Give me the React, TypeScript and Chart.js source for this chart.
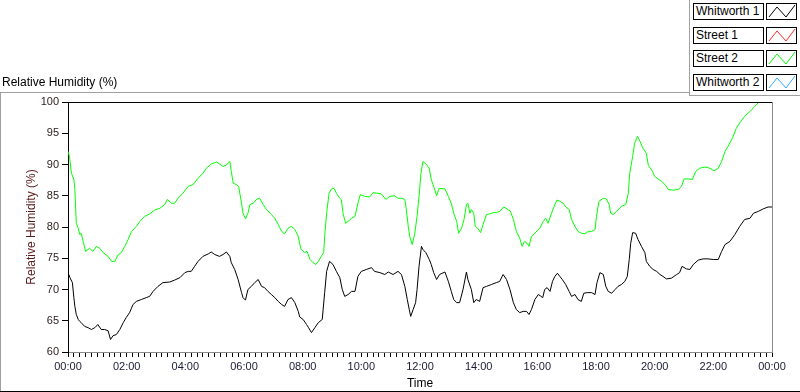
import React, { useEffect, useRef } from "react";
import { Chart, registerables } from "chart.js";

Chart.register(...registerables);

// ---- Data (time in minutes since 00:00, values in % RH) ----
const xTickMinutes = [0, 120, 240, 360, 480, 600, 720, 840, 960, 1080, 1200, 1320, 1440];
const xTickLabels = ["00:00", "02:00", "04:00", "06:00", "08:00", "10:00", "12:00", "14:00", "16:00", "18:00", "20:00", "22:00", "00:00"];
const yTickValues = [60, 65, 70, 75, 80, 85, 90, 95, 100];

const seriesNames = ["Whitworth 1", "Street 1", "Street 2", "Whitworth 2"];
const seriesColors = ["#000000", "#ff2a2a", "#00ff00", "#33aaff"];

const whitworth1Times = [
  0, 4, 9, 12, 14, 17, 21, 24, 27, 34, 41, 48, 55, 61, 68, 75, 82, 87, 92, 99, 106, 113, 119, 126, 133, 140,
  150, 160, 167, 174, 184, 194, 208, 218, 229, 239, 246, 252, 259, 266, 276, 287, 293, 300, 310, 317, 324, 331,
  334, 341, 348, 355, 358, 363, 368, 375, 382, 389, 396, 402, 409, 416, 423, 430, 437, 443, 450, 457, 464, 471,
  474, 481, 488, 492, 498, 505, 512, 520, 525, 529, 535, 542, 549, 556, 561, 566, 573, 580, 587, 593, 600, 610,
  621, 627, 638, 648, 655, 665, 675, 682, 689, 694, 698, 701, 706, 711, 714, 718, 723, 726, 732, 739, 743, 748,
  754, 760, 771, 778, 784, 789, 795, 801, 808, 815, 818, 825, 830, 835, 842, 849, 856, 866, 876, 883, 890, 897,
  904, 911, 917, 924, 931, 938, 943, 948, 955, 962, 966, 971, 975, 980, 986, 991, 996, 1001, 1006, 1011, 1018,
  1025, 1030, 1037, 1043, 1050, 1055, 1062, 1071, 1078, 1082, 1088, 1095, 1100, 1105, 1112, 1119, 1125, 1132,
  1139, 1144, 1148, 1151, 1155, 1161, 1166, 1173, 1180, 1183, 1190, 1197, 1204, 1211, 1217, 1224, 1234, 1245,
  1251, 1256, 1265, 1272, 1279, 1289, 1299, 1309, 1320, 1330, 1337, 1344, 1354, 1364, 1374, 1384, 1395, 1402,
  1412, 1422, 1432, 1440,
];
const whitworth1Values = [
  72.7, 71.9, 71.1, 68.7, 67.3, 66.0, 65.2, 64.9, 64.7, 64.1, 63.9, 63.6, 63.9, 64.4, 63.6, 63.6, 63.4, 62.0, 62.6,
  62.8, 63.6, 64.7, 65.5, 66.3, 67.6, 68.1, 68.4, 68.7, 68.9, 69.7, 70.5, 71.1, 71.2, 71.5, 71.9, 72.7, 72.9, 72.9,
  73.7, 74.5, 75.3, 75.7, 76.0, 75.6, 75.3, 75.6, 76.0, 75.3, 74.3, 73.2, 71.6, 69.5, 68.7, 68.3, 70.0, 70.5, 71.1,
  71.6, 70.5, 70.3, 69.7, 69.2, 68.7, 68.1, 67.6, 67.3, 68.4, 68.7, 67.9, 66.5,
  65.6, 65.2, 64.4, 63.9, 63.1, 63.9, 64.7, 65.2, 69.5, 72.9, 74.5, 74.0, 72.9, 71.9, 70.0, 68.9, 69.2, 69.7, 69.7,
  72.1, 72.9, 73.2, 73.5, 72.9, 72.7, 72.4, 72.8, 72.4, 72.9, 72.4, 70.5, 68.4, 66.8, 65.7, 66.8, 67.9, 70.0, 73.7,
  76.9, 76.4, 75.9, 74.8, 74.0, 72.7, 71.6, 72.4, 72.8, 71.3, 69.7, 68.4, 67.9, 67.9, 70.0, 72.8, 71.6, 70.0, 67.9,
  68.4, 68.1, 70.3, 70.5, 70.8, 71.1, 71.3, 72.4, 71.6, 70.0, 67.9, 66.8, 66.3, 66.5, 66.5, 66.0, 66.8, 68.4, 69.2,
  69.0, 68.7, 70.0, 70.3, 69.7, 71.3, 72.1, 72.6, 72.1, 71.6, 70.8, 69.7, 68.9, 69.2, 68.4, 68.1, 69.4, 69.5, 69.5,
  69.2, 71.1, 72.7, 72.4, 70.5, 69.7, 69.4, 70.0, 70.5, 70.8, 71.3, 72.1, 74.8, 77.4, 79.1, 79.0, 78.0, 76.9, 75.9,
  74.5, 73.7, 73.2, 72.9, 72.4, 72.1, 71.7, 71.8, 72.4, 72.7, 73.7, 73.3, 73.2, 74.0, 74.7, 74.9, 74.9, 74.8, 74.8,
  76.1, 77.2, 77.7, 78.8, 80.1, 81.2, 81.4, 82.2, 82.5, 82.9, 83.2, 83.2,
];

const street2Times = [
  0, 3, 7, 12, 14, 17, 21, 24, 27, 31, 36, 44, 51, 58, 65, 72, 82, 89, 96, 102, 109, 116, 123, 130, 140, 147, 157,
  167, 177, 188, 198, 203, 212, 218, 225, 235, 246, 256, 266, 276, 283, 293, 304, 310, 317, 324, 331, 334, 338,
  344, 349, 355, 358, 363, 368, 372, 379, 385, 392, 399, 406, 416, 423, 430, 437, 443, 450, 457, 464, 471,
  474, 477, 484, 489, 495, 501, 507, 512, 518, 523, 525, 529, 534, 539, 544, 549, 556, 559, 563, 568, 573, 580,
  587, 593, 598, 607, 617, 624, 634, 641, 650, 658, 668, 675, 682, 689, 692, 696, 699, 704, 709, 714, 718, 722,
  726, 732, 739, 743, 748, 754, 759, 771, 778, 784, 789, 795, 799, 805, 810, 815, 818, 822, 825, 830, 833, 838,
  844, 849, 856, 863, 870, 876, 883, 891, 898, 905, 911, 917, 924, 929, 934, 939, 943, 948, 955, 962, 965, 972,
  977, 982, 989, 996, 1000, 1007, 1013, 1018, 1025, 1030, 1037, 1043, 1050, 1057, 1064, 1071, 1078, 1081, 1086,
  1095, 1101, 1107, 1110, 1115, 1122, 1132, 1141, 1146, 1149, 1155, 1159, 1165, 1170, 1176, 1183, 1187, 1194,
  1200, 1207, 1214, 1221, 1228, 1238, 1248, 1255, 1260, 1269, 1277, 1284, 1292, 1303, 1313, 1321, 1330, 1337,
  1344, 1350, 1359, 1367, 1376, 1384, 1395, 1405, 1412, 1422, 1440,
];
const street2Values = [
  92.1, 91.3, 88.6, 87.6, 86.0, 80.6, 79.8, 78.8, 79.0, 77.7, 76.1, 76.6, 76.1, 76.9, 76.6, 75.9, 75.3, 74.5, 74.5,
  75.5, 75.9, 76.9, 78.0, 79.3, 80.1, 80.9, 81.7, 82.1, 82.7, 83.0, 83.6, 84.4, 83.8, 83.8, 84.6, 85.4, 86.5, 86.8,
  87.8, 88.6, 89.4, 90.1, 90.4, 90.1, 89.7, 89.9, 90.5, 88.9, 87.0, 86.8, 86.5, 83.8, 82.2, 81.3, 82.2, 83.6, 83.8,
  84.4, 84.6, 83.6, 82.8, 82.0, 81.4, 80.4, 79.3, 78.9, 79.8, 80.1, 79.6, 78.5,
  77.3, 76.4, 75.9, 76.1, 74.8, 74.3, 74.0, 74.5, 75.3, 75.9, 78.5, 82.2, 85.4, 86.1, 86.2, 85.4, 84.6, 84.4, 82.0,
  80.6, 80.9, 81.4, 81.7, 83.8, 85.2, 84.9, 84.8, 85.5, 85.4, 85.3, 84.4, 84.9, 85.0, 84.6, 84.6, 84.4, 82.8, 80.1,
  78.5, 77.2, 78.8, 81.7, 84.9, 88.6, 90.5, 90.1, 89.4, 87.6, 86.5, 85.0, 86.2, 86.1, 84.9, 83.8, 82.2, 80.9, 79.0,
  79.8, 81.2, 83.6, 83.8, 82.2, 82.8, 82.2, 80.1, 79.8, 79.1, 80.4, 82.0, 82.1, 82.3, 82.3, 82.5, 83.2, 82.9, 82.5,
  81.2, 79.3, 78.2, 76.9, 77.7, 77.4, 76.9, 78.5, 79.0, 79.6, 79.8, 80.9, 81.4, 80.6, 82.2, 83.6, 84.3, 84.1, 83.8,
  83.2, 82.8, 81.2, 80.1, 79.3, 79.0, 78.9, 79.3, 79.3, 79.6, 81.7, 84.1, 84.6, 84.5, 83.6, 82.2, 82.0, 82.5, 83.3,
  83.6, 85.4, 88.6, 91.3, 93.4, 94.5, 93.7, 92.6, 91.8, 89.9, 89.1, 88.1, 87.7, 87.3, 86.8, 86.0, 85.9, 86.0, 86.5,
  87.7, 87.7, 87.6, 88.9, 89.4, 89.6, 89.4, 89.0, 89.4, 90.5, 92.1, 92.9, 94.2, 95.8, 96.9, 97.7, 98.5, 99.3, 99.9,
  100.0, 100.0,
];
const street1Times: number[] = [];
const street1Values: number[] = [];
const whitworth2Times: number[] = [];
const whitworth2Values: number[] = [];

const FONT = "'Liberation Sans', Arial, sans-serif";

function toPoints(times: number[], values: number[]) {
  return times.map((t, i) => ({ x: t, y: values[i] }));
}

const plotFrame = {
  id: "plotFrame",
  afterDraw(chart: any) {
    const { ctx, chartArea } = chart;
    const { left, right, top, bottom } = chartArea;
    ctx.save();
    ctx.lineWidth = 1;
    ctx.strokeStyle = "#000000";
    ctx.beginPath();
    ctx.moveTo(left, top + 0.5);
    ctx.lineTo(right, top + 0.5);
    ctx.stroke();
    ctx.strokeStyle = "#8a8a8a";
    ctx.beginPath();
    ctx.moveTo(right + 0.5, top);
    ctx.lineTo(right + 0.5, bottom + 1);
    ctx.stroke();
    ctx.restore();
  },
};

function LegendRow({ name, color, top }: { name: string; color: string; top: number }) {
  return (
    <>
      <div
        style={{
          position: "absolute",
          left: 693,
          top,
          width: 71,
          height: 17,
          boxSizing: "border-box",
          border: "1px solid #000",
          background: "#fff",
          fontSize: 12,
          lineHeight: "15px",
          paddingLeft: 2,
          whiteSpace: "nowrap",
          color: "#000",
        }}
      >
        {name}
      </div>
      <div
        style={{
          position: "absolute",
          left: 766,
          top,
          width: 31,
          height: 17,
          boxSizing: "border-box",
          border: "1px solid #000",
          background: "#fff",
        }}
      >
        <svg width={29} height={15} style={{ display: "block" }}>
          <polyline points="2,13 10,3 19,13 28,1" fill="none" stroke={color} strokeWidth={1} />
        </svg>
      </div>
    </>
  );
}

export default function App() {
  const canvasRef = useRef<HTMLCanvasElement | null>(null);

  useEffect(() => {
    const canvas = canvasRef.current;
    if (!canvas) return;
    Chart.defaults.font.family = FONT;
    const chart = new Chart(canvas, {
      type: "line",
      data: {
        datasets: [
          { label: seriesNames[0], data: toPoints(whitworth1Times, whitworth1Values), borderColor: seriesColors[0] },
          { label: seriesNames[1], data: toPoints(street1Times, street1Values), borderColor: seriesColors[1] },
          { label: seriesNames[2], data: toPoints(street2Times, street2Values), borderColor: seriesColors[2] },
          { label: seriesNames[3], data: toPoints(whitworth2Times, whitworth2Values), borderColor: seriesColors[3] },
        ].map((d) => ({ ...d, borderWidth: 1, pointRadius: 0, tension: 0, fill: false })),
      },
      options: {
        animation: false,
        responsive: false,
        layout: { padding: { left: 0, top: 102, right: 28, bottom: 0 } },
        plugins: { legend: { display: false }, tooltip: { enabled: false }, title: { display: false } },
        scales: {
          x: {
            type: "linear",
            min: 0,
            max: 1440,
            afterFit: (s: any) => {
              s.height = 40;
            },
            afterBuildTicks: (s: any) => {
              const ticks = [];
              for (let m = 0; m <= 1440; m += 12) ticks.push({ value: m });
              s.ticks = ticks;
            },
            ticks: {
              autoSkip: false,
              maxRotation: 0,
              padding: 3,
              color: "#1a1a33",
              font: { size: 11, family: FONT },
              callback: (v: any) => {
                const i = xTickMinutes.indexOf(Number(v));
                return i >= 0 ? xTickLabels[i] : "";
              },
            },
            grid: { drawOnChartArea: false, drawTicks: true, tickLength: 5, color: "#000" },
            border: { display: true, color: "#8a8a8a" },
            title: { display: true, text: "Time", color: "#000", font: { size: 12, family: FONT }, padding: { top: 0, bottom: 1 } },
          },
          y: {
            min: 60,
            max: 100,
            afterFit: (s: any) => {
              s.width = 68;
            },
            afterBuildTicks: (s: any) => {
              s.ticks = yTickValues.map((v) => ({ value: v }));
            },
            ticks: {
              padding: 3,
              color: "#2a1a1a",
              font: { size: 11, family: FONT },
            },
            grid: { drawOnChartArea: false, drawTicks: true, tickLength: 6, color: "#000" },
            border: { display: true, color: "#000" },
            title: {
              display: true,
              text: "Relative Humidity (%)",
              color: "#5a1a1a",
              font: { size: 12, family: FONT },
              padding: { top: 24, bottom: 0 },
            },
          },
        },
      },
      plugins: [plotFrame],
    });
    return () => chart.destroy();
  }, []);

  const grey = "#a0a0a0";
  return (
    <div
      style={{
        position: "absolute",
        left: 0,
        top: 0,
        width: 800,
        height: 392,
        background: "#fff",
        fontFamily: FONT,
        overflow: "hidden",
      }}
    >
      <canvas ref={canvasRef} width={800} height={392} style={{ position: "absolute", left: 0, top: 0 }} />
      <div style={{ position: "absolute", left: 2, top: 75, fontSize: 12, lineHeight: "14px", color: "#000", whiteSpace: "nowrap" }}>
        Relative Humidity (%)
      </div>
      <div style={{ position: "absolute", left: 0, top: 92, width: 690, height: 1, background: grey }} />
      <div style={{ position: "absolute", left: 0, top: 92, width: 1, height: 300, background: grey }} />
      <div style={{ position: "absolute", left: 689, top: 0, width: 1, height: 96, background: grey }} />
      <div style={{ position: "absolute", left: 689, top: 95, width: 111, height: 1, background: grey }} />
      <div style={{ position: "absolute", left: 0, top: 391, width: 800, height: 1, background: "#000" }} />
      {seriesNames.map((n, i) => (
        <LegendRow key={n} name={n} color={seriesColors[i]} top={3 + Math.round(i * 23.6)} />
      ))}
    </div>
  );
}
